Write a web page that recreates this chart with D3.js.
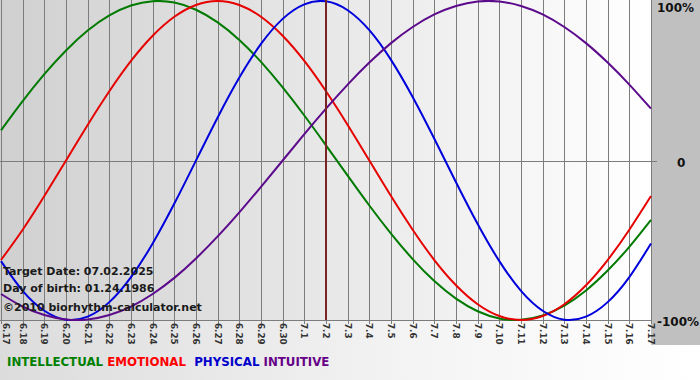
<!DOCTYPE html>
<html><head><meta charset="utf-8">
<script src="https://cdn.jsdelivr.net/npm/d3@7/dist/d3.min.js"></script>
<style>body{margin:0;background:#fff}svg{display:block}</style>
</head><body>
<svg id="c" width="700" height="380"></svg>
<script>
const days = ["6.17","6.18","6.19","6.20","6.21","6.22","6.23","6.24","6.25","6.26","6.27","6.28","6.29","6.30",
  "7.1","7.2","7.3","7.4","7.5","7.6","7.7","7.8","7.9","7.10","7.11","7.12","7.13","7.14","7.15","7.16","7.17"];
const physical = [-0.631,-0.817,-0.942,-0.998,-0.979,-0.888,-0.731,-0.520,-0.270,0,0.270,0.520,0.731,0.888,0.979,0.998,
  0.942,0.817,0.631,0.398,0.136,-0.136,-0.398,-0.631,-0.817,-0.942,-0.998,-0.979,-0.888,-0.731,-0.520];
const emotional = [-0.624,-0.434,-0.223,0,0.223,0.434,0.624,0.782,0.901,0.975,1,0.975,0.901,0.782,0.624,0.434,
  0.223,0,-0.223,-0.434,-0.624,-0.782,-0.901,-0.975,-1,-0.975,-0.901,-0.782,-0.624,-0.434,-0.223];
const intellectual = [0.189,0.372,0.541,0.690,0.815,0.910,0.972,0.999,0.990,0.945,0.866,0.756,0.618,0.458,0.282,0.095,
  -0.095,-0.282,-0.458,-0.618,-0.756,-0.866,-0.945,-0.990,-0.999,-0.972,-0.910,-0.815,-0.690,-0.541,-0.372];
const intuitive = [-0.837,-0.916,-0.969,-0.997,-0.997,-0.969,-0.916,-0.837,-0.736,-0.614,-0.476,-0.325,-0.165,0,0.165,0.325,
  0.476,0.614,0.736,0.837,0.916,0.969,0.997,0.997,0.969,0.916,0.837,0.736,0.614,0.476,0.325];
const yTicks = [{v:1,t:"100%"},{v:0,t:"0"},{v:-1,t:"-100%"}];
const targetDay = "7.2";
const infoLines = ["Target Date: 07.02.2025","Day of birth: 01.24.1986","\u00a92010 biorhythm-calculator.net"];
const legend = [{t:"INTELLECTUAL",c:"#008000"},{t:"EMOTIONAL",c:"#ff0000"},{t:"PHYSICAL",c:"#0000cc"},{t:"INTUITIVE",c:"#660088"}];
const series = [
  {d:intellectual,c:"#007a00"},
  {d:emotional,c:"#e60000"},
  {d:physical,c:"#0000dd"},
  {d:intuitive,c:"#5c0a8c"}
];

const svg = d3.select("#c");
const W=700,H=380, L=1, R=651, T=1, B=320;
const defs = svg.append("defs");
const g1 = defs.append("linearGradient").attr("id","bg").attr("x1","0").attr("x2","1").attr("y1","0").attr("y2","0");
g1.append("stop").attr("offset","0").attr("stop-color","#d0d0d0");
g1.append("stop").attr("offset","1").attr("stop-color","#ffffff");
const g2 = defs.append("linearGradient").attr("id","bg2").attr("x1","0").attr("x2","1").attr("y1","0").attr("y2","0");
g2.append("stop").attr("offset","0").attr("stop-color","#dcdcdc");
g2.append("stop").attr("offset","0.6").attr("stop-color","#f4f4f4");
g2.append("stop").attr("offset","1").attr("stop-color","#ffffff");

svg.append("rect").attr("x",0).attr("y",0).attr("width",W).attr("height",H).attr("fill","url(#bg2)");
svg.append("rect").attr("x",0).attr("y",0).attr("width",R).attr("height",B).attr("fill","url(#bg)");
svg.append("rect").attr("x",R).attr("y",0).attr("width",W-R).attr("height",345).attr("fill","#c0c0c0");

const x = d3.scalePoint().domain(days).range([L,R]);
const y = d3.scaleLinear().domain([-1,1]).range([B,T]);

// vertical grid
svg.append("g").selectAll("line").data(days).join("line")
  .attr("x1",d=>Math.round(x(d))+0.5).attr("x2",d=>Math.round(x(d))+0.5)
  .attr("y1",0).attr("y2",B+4).attr("stroke","#7c7c7c").attr("stroke-width",1);
// zero line
svg.append("line").attr("x1",0).attr("x2",R+6).attr("y1",Math.round(y(0))+0.5).attr("y2",Math.round(y(0))+0.5)
  .attr("stroke","#7c7c7c");
svg.append("line").attr("x1",0).attr("x2",R).attr("y1",B+0.5).attr("y2",B+0.5).attr("stroke","#7c7c7c");

// x labels
svg.append("g").selectAll("text").data(days).join("text")
  .attr("transform",d=>`translate(${Math.max(Math.round(x(d))-3.5,2.5)},${B+3}) rotate(90)`)
  .attr("font-family","DejaVu Sans").attr("font-weight","bold").attr("font-size",8.8)
  .attr("fill","#333").text(d=>d);

// y labels
svg.append("g").selectAll("text").data(yTicks).join("text")
  .attr("x",d=>d.v===0?R+26:R+6).attr("y",d=>y(d.v)+(d.v===1?11:6))
  .attr("font-family","DejaVu Sans").attr("font-weight","bold").attr("font-size",12)
  .attr("fill","#111").text(d=>d.t);

// curves
const line = d3.line().x((d,i)=>x(days[i])).y(d=>y(d)).curve(d3.curveNatural);
svg.append("g").selectAll("path").data(series).join("path")
  .attr("d",d=>line(d.d)).attr("fill","none").attr("stroke",d=>d.c).attr("stroke-width",2);

// target line
svg.append("line").attr("x1",x(targetDay)).attr("x2",x(targetDay)).attr("y1",0).attr("y2",B)
  .attr("stroke","#7a2323").attr("stroke-width",2);

// info text
svg.append("g").selectAll("text").data(infoLines).join("text")
  .attr("x",3).attr("y",(d,i)=>[275,292,311][i])
  .attr("font-family","DejaVu Sans").attr("font-weight","bold").attr("font-size",11)
  .attr("fill","#1a1a1a").text(d=>d);

// legend
const lg = svg.append("text").attr("x",7).attr("y",366)
  .attr("font-family","DejaVu Sans").attr("font-weight","bold").attr("font-size",11.8);
legend.forEach((l,i)=>{
  lg.append("tspan").attr("fill",l.c).text((i?(i===2?"\u00a0\u00a0":"\u00a0"):"")+l.t);
});
</script>
</body></html>
